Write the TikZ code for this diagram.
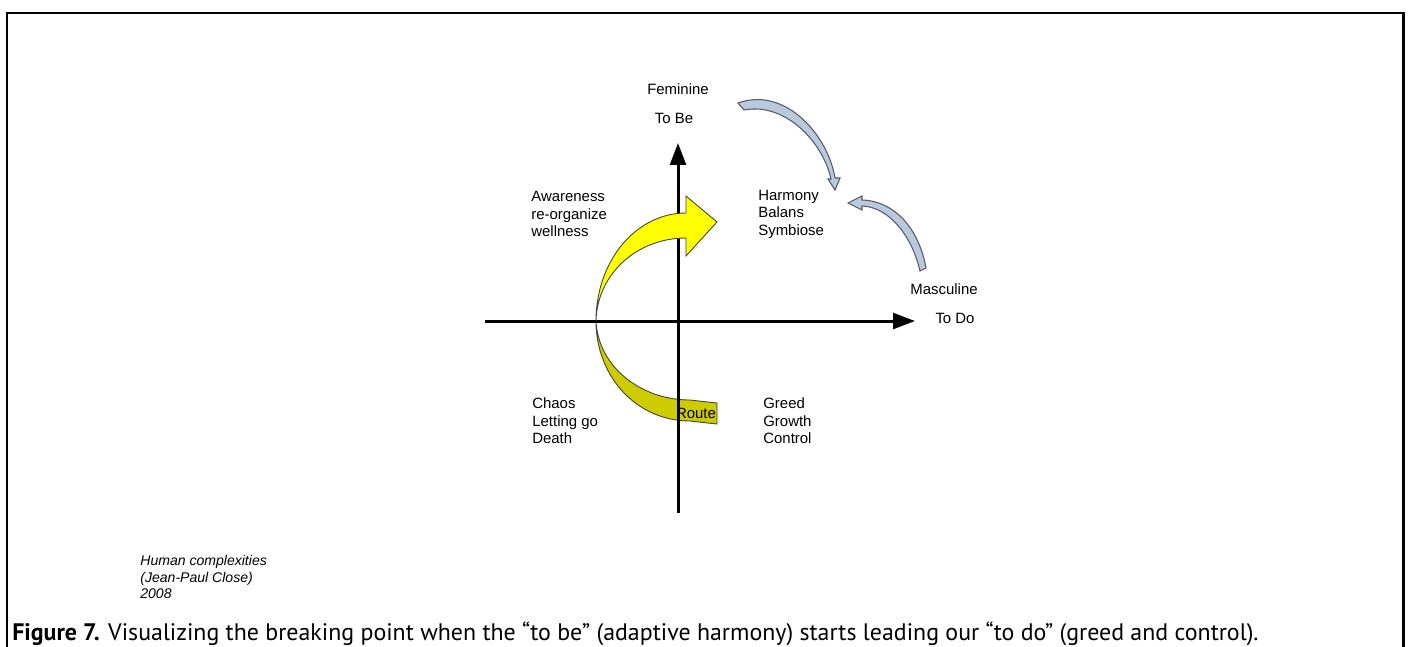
\documentclass[tikz,border=0pt]{standalone}
\usepackage{fontspec}
\setmainfont{Liberation Sans}
\newfontfamily\capfont{PT Sans}
\usetikzlibrary{arrows.meta}
\definecolor{routeyellow}{RGB}{255,255,0}
\definecolor{routeback}{RGB}{206,204,0}
\definecolor{loopfill}{RGB}{185,201,222}
\definecolor{loopline}{RGB}{85,90,100}

\begin{document}
\begin{tikzpicture}[x=0.02cm,y=-0.02cm,
		axis/.style={line width=1.7pt,-{Triangle[length=12.5pt,width=9pt]}},
		lbl/.style={font=\fontsize{8.5}{10}\selectfont,align=left,inner sep=0pt},
		note/.style={font=\fontsize{8}{9.6}\selectfont\itshape,align=left,inner sep=0pt},
		band/.style={draw=black!75,line width=0.5pt},
		loop/.style={fill=loopfill,draw=loopline,line width=0.6pt}]
		\useasboundingbox (0,0) rectangle (1409,646);
		% frame
		\coordinate (fbl) at (7,660);
		\coordinate (ftl) at (7,13);
		\coordinate (ftr) at (1403,13);
		\coordinate (fbr) at (1403,660);
		\draw[line width=1.7pt] (fbl) -- (ftl) -- (ftr) -- (fbr);
		% axes
		\coordinate (xl) at (485,321);
		\coordinate (xr) at (915,321);
		\coordinate (yb) at (678,513);
		\coordinate (yt) at (678,143);
		% route arrow (back side first)
		\draw[band,fill=routeback] (596,321) .. controls (596,376) and (636,421) .. (690,421)
			-- (717,424) -- (717,403) -- (690,400) .. controls (640,400) and (598,366) .. (596,321) -- cycle;
		\draw[axis] (xl) -- (xr);
		\draw[axis] (yb) -- (yt);
		\draw[band,fill=routeyellow] (596,321) .. controls (596,261) and (636,213) .. (686,213)
			-- (686,196) -- (717,222) -- (686,256) -- (686,238)
			.. controls (636,238) and (597,275) .. (596,321) -- cycle;
		\draw (696,413) node (route) [lbl] {Route};
		% loops
		\draw[loop] (738,103) .. controls (785,86) and (828,135) .. (835,178)
			-- (840,178) -- (835,190) -- (828,179) -- (831,179)
			.. controls (823,142) and (785,102) .. (744,110) -- cycle;
		\draw[loop] (926,268) .. controls (919,229) and (895,201) .. (862,200)
			-- (862,196) -- (848,203) -- (862,210) -- (862,206)
			.. controls (889,207) and (912,236) .. (920,271) -- cycle;
		% labels
		\draw (678,89) node (fem) [lbl] {Feminine};
		\draw (674,118) node (tobe) [lbl] {To Be};
		\draw (944,289) node (masc) [lbl] {Masculine};
		\draw (955,318) node (todo) [lbl] {To Do};
		\draw (531,214) node (aware) [lbl,anchor=west] {Awareness\\re-organize\\wellness};
		\draw (758,214) node (harm) [lbl,anchor=west] {Harmony\\Balans\\Symbiose};
		\draw (532,421) node (chaos) [lbl,anchor=west] {Chaos\\Letting go\\Death};
		\draw (763,421) node (greed) [lbl,anchor=west] {Greed\\Growth\\Control};
		\draw (140,577) node (human) [note,anchor=west] {Human complexities\\(Jean-Paul Close)\\2008};
		\draw (12,640) node (caption) [anchor=base west,inner sep=0pt,font=\capfont\fontsize{13.6}{15}\selectfont]
			{\textbf{Figure 7.} Visualizing the breaking point when the “to be” (adaptive harmony) starts leading our “to do” (greed and control).};
	\end{tikzpicture}
\end{document}
